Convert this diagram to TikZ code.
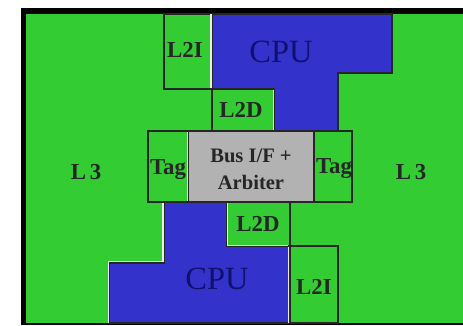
\documentclass[tikz,border=0pt]{standalone}
\usepackage{fontspec}
\setmainfont{Liberation Serif}
\definecolor{cachegreen}{RGB}{51,204,51}
\definecolor{cpublue}{RGB}{51,51,204}
\definecolor{busgray}{RGB}{178,178,178}
\definecolor{cpuink}{RGB}{16,16,110}
\tikzset{
  cachebox/.style={draw=black!85, line width=0.6pt, fill=cachegreen},
  cpubox/.style={draw=black!85, line width=0.6pt, fill=cpublue},
  lit/.style={draw=white!92!black, line width=0.7pt},
  cachetext/.style={font=\fontsize{13}{13}\bfseries\selectfont, text=black!85, inner sep=0pt},
  cputext/.style={font=\fontsize{18.5}{18.5}\selectfont, text=cpuink, inner sep=0pt},
  bustext/.style={font=\fontsize{11.7}{15.5}\bfseries\selectfont, text=black!85, inner sep=0pt, align=center}
}
\begin{document}
\begin{tikzpicture}[x=0.02cm,y=-0.02cm]
    \useasboundingbox (0,0) rectangle (463,325);
    \fill[white] (0,0) rectangle (463,325);
    % die outline and L3
    \fill[black] (21,8) rectangle (463,325);
    \fill[cachegreen] (26,14) rectangle (463,323);
    % top half
    \draw[cachebox] (164,14) rectangle (212,89);
    \draw[cachebox] (212,89) rectangle (274,131);
    \draw[cpubox] (212,14) -- (392,14) -- (392,73) -- (338,73) -- (338,131)
      -- (274,131) -- (274,89) -- (212,89) -- cycle;
    \draw[lit] (211,14) -- (211,88);
    \draw[lit] (273.5,90) -- (273.5,130);
    % bottom half
    \draw[cachebox] (227,202) rectangle (290,246);
    \draw[cachebox] (290,246) rectangle (338,323);
    \draw[cpubox] (164,202) -- (227,202) -- (227,246) -- (289,246) -- (289,323)
      -- (109,323) -- (109,263) -- (164,263) -- cycle;
    \draw[lit] (227.5,203) -- (227.5,245.5) -- (288,245.5);
    \draw[lit] (288.5,247) -- (288.5,323);
    \draw[lit] (108.5,323) -- (108.5,261.5) -- (163,261.5) -- (163,203);
    % centre row
    \draw[cachebox] (148,131) rectangle (188,202);
    \draw[cachebox] (314,131) rectangle (352,202);
    \draw[draw=black!85, line width=0.6pt, fill=busgray] (188,131) rectangle (314,202);
    \draw[lit] (187.5,132) -- (187.5,201);
    % labels
    \node[cachetext] (l3left) at (86,172) {L\,3};
    \node[cachetext] (l3right) at (411,172) {L\,3};
    \node[cputext] (cputop) at (281,52) {CPU};
    \node[cputext] (cpubottom) at (217,279) {CPU};
    \node[cachetext] (l2itop) at (185,50) {L2I};
    \node[cachetext] (l2dtop) at (241,110) {L2D};
    \node[cachetext] (l2dbottom) at (258,224) {L2D};
    \node[cachetext] (l2ibottom) at (314,287) {L2I};
    \node[cachetext] (tagleft) at (168,170) {Tag};
    \node[cachetext] (tagright) at (334,169) {Tag};
    \node[bustext] (bus) at (251,169) {Bus I/F +\\Arbiter};
\end{tikzpicture}
\end{document}
